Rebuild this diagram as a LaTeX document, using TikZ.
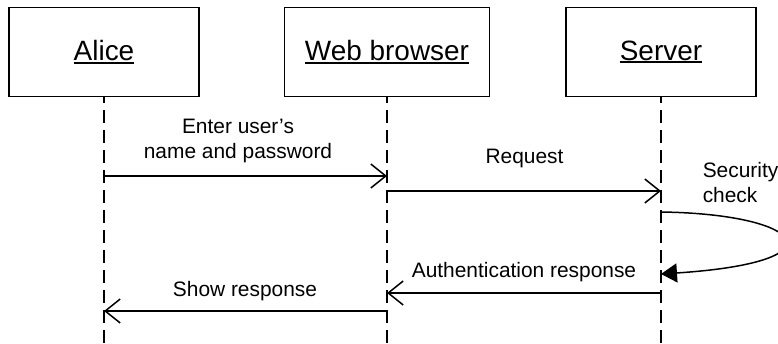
\documentclass[tikz,border=0pt]{standalone}
\usepackage{fontspec}
\setmainfont{Liberation Sans}
\usetikzlibrary{arrows.meta}
\newcommand{\unterstrich}[1]{\setbox0\hbox{#1}\rlap{\rule[-1.9pt]{\wd0}{1.2pt}}\box0}

\begin{document}
\begin{tikzpicture}[
    x=0.02cm, y=-0.02cm,
    line width=0.85pt,
    font=\fontsize{11.9pt}{14.2pt}\selectfont,
    teilnehmer/.style={draw, minimum width=3.8cm, minimum height=1.78cm, inner sep=0pt,
      font=\fontsize{15.9pt}{19pt}\selectfont},
    lebenslinie/.style={dash pattern=on 0.26cm off 0.14cm, dash phase=0.14cm},
    nachricht/.style={-{Straight Barb[length=0.3cm, width=0.48cm]}},
    pruefung/.style={-{Triangle[length=0.32cm, width=0.38cm]}},
    beschriftung/.style={inner sep=0pt}
  ]
  \useasboundingbox (0,0) rectangle (778,344);

  % Teilnehmer
  \node[teilnehmer] (alice) at (104,52) {\unterstrich{Alice}};
  \node[teilnehmer, minimum width=4.1cm] (browser) at (387,52) {\unterstrich{Web browser}};
  \node[teilnehmer] (server) at (661,52) {\unterstrich{Server}};

  % Lebenslinien
  \coordinate (alice-unten) at (alice |- 0,344);
  \coordinate (browser-unten) at (browser |- 0,344);
  \coordinate (server-unten) at (server |- 0,344);
  \draw[lebenslinie] (alice) -- (alice-unten);
  \draw[lebenslinie] (browser) -- (browser-unten);
  \draw[lebenslinie] (server) -- (server-unten);

  % Punkte auf den Lebenslinien
  \coordinate (a1) at (alice |- 0,176);
  \coordinate (b1) at (browser |- 0,176);
  \coordinate (b2) at (browser |- 0,191);
  \coordinate (s2) at (server |- 0,191);
  \coordinate (s3) at (server |- 0,212);
  \coordinate (s4) at (server |- 0,274);
  \coordinate (s5) at (server |- 0,293);
  \coordinate (b5) at (browser |- 0,293);
  \coordinate (b6) at (browser |- 0,311);
  \coordinate (a6) at (alice |- 0,311);

  % Nachrichten
  \draw[nachricht] (a1) -- (b1);
  \draw[nachricht] (b2) -- (s2);
  \draw[pruefung] (s3) .. controls (805,214) and (845,262) .. (s4);
  \draw[nachricht] (s5) -- (b5);
  \draw[nachricht] (b6) -- (a6);

  \node[beschriftung, anchor=south, align=center] (eingabe) at (238,163.4) {Enter user’s\\name and password};
  \node[beschriftung, anchor=base] (anfrage) at (524.5,164) {Request};
  \node[beschriftung, anchor=south west, align=left] (sicherheit) at (702,203) {Security\\check};
  \node[beschriftung, anchor=base] (antwort) at (524,278) {Authentication response};
  \node[beschriftung, anchor=base] (anzeige) at (245,296.7) {Show response};
\end{tikzpicture}
\end{document}
